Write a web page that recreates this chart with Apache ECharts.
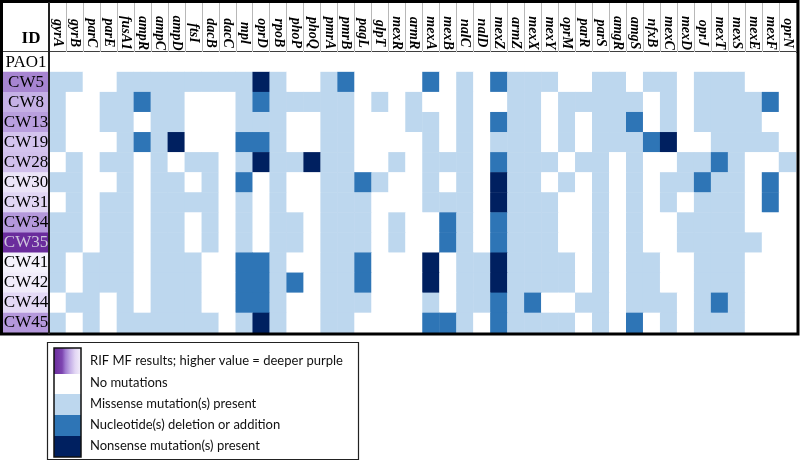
<!DOCTYPE html>
<html>
<head>
<meta charset="utf-8">
<script src="https://cdn.jsdelivr.net/npm/echarts@6/dist/echarts.min.js"></script>
<style>
  html, body { margin: 0; padding: 0; background: #ffffff; }
  #chart { width: 800px; height: 465px; }
</style>
</head>
<body>
<div id="chart"></div>
<script>
// ---------- DATA ----------
const genes = ['gyrA','gyrB','parC','parE','fusA1','ampR','ampC','ampD','ftsI','dacB','dacC','mpl','oprD','rpoB','phoP','phoQ','pmrA','pmrB','pagL','glpT','mexR','armR','mexA','mexB','nalC','nalD','mexZ','armZ','mexX','mexY','oprM','parR','parS','amgR','amgS','nfxB','mexC','mexD','oprJ','mexT','mexS','mexE','mexF','oprN'];
const strains = ['PAO1','CW5','CW8','CW13','CW19','CW28','CW30','CW31','CW34','CW35','CW41','CW42','CW44','CW45'];
// mutation code: 0 none, 1 missense, 2 nucleotide deletion/addition, 3 nonsense
const PAO1 = [0,0,0,0,0,0,0,0,0,0,0,0,0,0,0,0,0,0,0,0,0,0,0,0,0,0,0,0,0,0,0,0,0,0,0,0,0,0,0,0,0,0,0,0];
const CW5  = [1,1,0,0,1,1,1,1,1,1,1,1,3,1,0,0,1,2,0,0,0,0,2,0,1,0,2,1,1,1,0,0,1,1,0,1,1,0,1,1,1,0,0,0];
const CW8  = [1,0,0,1,1,2,1,1,0,0,0,1,2,1,1,1,1,1,0,1,0,1,0,0,1,0,0,1,1,0,1,1,1,1,1,0,1,0,1,1,1,1,2,0];
const CW13 = [1,0,0,1,1,0,1,1,0,0,0,1,1,1,0,0,1,1,0,0,0,1,1,0,1,0,2,1,1,0,1,0,1,1,2,0,1,0,1,1,1,1,0,0];
const CW19 = [1,0,0,0,1,2,1,3,0,0,0,2,2,1,0,0,1,1,0,0,0,0,1,0,1,0,1,1,1,0,1,0,1,1,1,2,3,0,0,1,1,1,1,0];
const CW28 = [0,1,0,1,1,0,1,0,1,1,0,1,3,1,1,3,1,1,0,0,1,0,1,1,1,0,2,1,1,1,0,1,1,0,1,0,0,1,1,2,1,0,0,1];
const CW30 = [1,1,0,0,1,0,1,1,0,1,0,2,0,1,0,0,1,1,2,1,0,0,1,0,1,0,3,1,1,0,1,0,1,0,1,0,1,1,2,1,1,0,2,0];
const CW31 = [0,1,0,1,1,0,1,1,1,1,0,1,0,1,0,0,1,1,1,0,0,0,1,1,1,0,3,1,1,1,0,0,1,0,1,0,1,0,1,1,1,0,2,0];
const CW34 = [1,1,0,1,1,0,1,1,0,1,0,1,0,1,1,0,1,1,1,0,1,0,0,2,1,0,2,1,1,1,0,0,1,0,1,0,0,1,1,1,1,0,0,0];
const CW35 = [1,1,0,1,1,0,1,1,0,1,0,1,0,1,1,0,1,1,1,0,1,0,0,2,1,0,2,1,1,1,0,0,1,0,1,0,0,1,1,1,1,1,0,0];
const CW41 = [1,0,1,1,1,0,1,1,1,0,0,2,2,1,0,0,1,1,2,0,0,0,3,0,1,1,3,1,1,1,1,0,1,0,1,1,0,0,1,1,1,0,0,0];
const CW42 = [1,0,1,1,1,0,1,1,1,0,0,2,2,1,2,0,1,1,2,0,0,0,3,0,1,1,3,1,1,1,1,0,1,0,1,1,0,0,1,1,1,0,0,0];
const CW44 = [0,1,1,0,1,0,1,1,1,0,0,2,2,1,0,0,1,1,1,0,0,0,1,0,1,1,2,1,2,0,0,1,1,0,1,1,1,0,1,2,1,0,0,0];
const CW45 = [1,0,1,0,1,1,1,1,1,1,0,1,3,1,0,0,1,1,0,0,0,0,2,2,1,0,2,1,1,1,1,0,1,0,2,0,1,0,1,1,1,0,0,0];
// relative RIF MF shade (higher = deeper purple)
const rifShade = [0, 60, 40, 49, 31, 33, 14, 22, 52, 100, 7, 10, 20, 52];
const legendLabels = ['RIF MF results; higher value = deeper purple','No mutations','Missense mutation(s) present','Nucleotide(s) deletion or addition','Nonsense mutation(s) present'];

// ---------- BUILD ----------
const mutationRows = [PAO1, CW5, CW8, CW13, CW19, CW28, CW30, CW31, CW34, CW35, CW41, CW42, CW44, CW45];
const cellData = [];
mutationRows.forEach((row, y) => row.forEach((v, x) => cellData.push([x, y, v])));
const idData = strains.map((s, y) => ({
  value: [0, y, rifShade[y]],
  label: { color: rifShade[y] > 80 ? '#cfc6de' : '#000000' }
}));

const mutColors = ['#ffffff', '#bdd7ee', '#2e75b6', '#002060'];
const serif = '"Liberation Serif", "Times New Roman", serif';
const sans = 'Lato, "Liberation Sans", sans-serif';

const chart = echarts.init(document.getElementById('chart'), null, { renderer: 'canvas' });

const swatchRows = [
  { y: 348, h: 26 },
  { y: 374, h: 20 },
  { y: 394, h: 21 },
  { y: 415, h: 21 },
  { y: 436, h: 21 }
];
const textY = [361, 383, 404, 425, 446];
const graphics = [];
// outer frame
graphics.push({ type: 'rect', shape: { x: 1.5, y: 1.5, width: 796.5, height: 332.5 }, style: { fill: 'none', stroke: '#000', lineWidth: 3 }, z: 100 });
// ID separator
graphics.push({ type: 'line', shape: { x1: 49, y1: 2, x2: 49, y2: 334 }, style: { stroke: '#222', lineWidth: 2 }, z: 100 });
// legend box
graphics.push({ type: 'rect', shape: { x: 47.5, y: 342.5, width: 311, height: 117 }, style: { fill: '#fff', stroke: '#222', lineWidth: 1.2 }, z: 50 });
swatchRows.forEach((r, i) => {
  let fill;
  if (i === 0) {
    fill = new echarts.graphic.LinearGradient(0, 0, 1, 0, [
      { offset: 0, color: '#6a2c9c' }, { offset: 0.3, color: '#7d45b0' },
      { offset: 0.42, color: '#a07ad0' }, { offset: 0.6, color: '#c4aee6' },
      { offset: 0.78, color: '#e2d6f4' }, { offset: 1, color: '#f4effb' }
    ]);
  } else {
    fill = mutColors[i - 1];
  }
  graphics.push({ type: 'rect', shape: { x: 54, y: r.y, width: 27, height: r.h }, style: { fill: fill }, z: 51 });
});
graphics.push({ type: 'rect', shape: { x: 54, y: 348, width: 27, height: 109 }, style: { fill: 'none', stroke: '#111', lineWidth: 1.5 }, z: 52 });
legendLabels.forEach((t, i) => {
  graphics.push({ type: 'text', style: { text: t, x: 90, y: textY[i], fill: '#111', font: '13px ' + sans, textVerticalAlign: 'middle', verticalAlign: 'middle' }, z: 53 });
});

const option = {
  animation: false,
  backgroundColor: '#ffffff',
  grid: [
    { left: 49, top: 52, width: 747, height: 281 },
    { left: 3, top: 52, width: 46, height: 281 }
  ],
  xAxis: [
    {
      type: 'category', gridIndex: 0, data: genes, position: 'top',
      axisLine: { show: true, lineStyle: { color: '#000', width: 2 } },
      axisTick: { show: true, length: 50, lineStyle: { color: '#b8b8b8', width: 1 } },
      axisLabel: { interval: 0, rotate: 90, align: 'center', verticalAlign: 'middle', margin: 19,
        fontFamily: serif, fontStyle: 'italic', fontWeight: 'bold', fontSize: 14, color: '#000' },
      splitLine: { show: false }
    },
    {
      type: 'category', gridIndex: 1, data: ['ID'], position: 'top',
      axisLine: { show: true, lineStyle: { color: '#000', width: 2 } },
      axisTick: { show: false },
      axisLabel: { margin: 5, fontFamily: serif, fontWeight: 'bold', fontSize: 17, color: '#000', padding: [0, 0, 0, 10] },
      splitLine: { show: false }
    }
  ],
  yAxis: [
    { type: 'category', gridIndex: 0, data: strains, inverse: true, show: false },
    { type: 'category', gridIndex: 1, data: strains, inverse: true, show: false }
  ],
  visualMap: [
    {
      type: 'piecewise', seriesIndex: 0, dimension: 2, show: false,
      pieces: mutColors.map((c, i) => ({ value: i, color: c }))
    },
    {
      type: 'continuous', seriesIndex: 1, dimension: 2, show: false, min: 0, max: 100,
      inRange: { color: ['#ffffff', '#ddd0f3', '#b79ddd', '#8f62c0', '#6a2c9c'] }
    }
  ],
  series: [
    {
      type: 'heatmap', xAxisIndex: 0, yAxisIndex: 0, data: cellData,
      itemStyle: { borderWidth: 0 }, emphasis: { disabled: true }
    },
    {
      type: 'heatmap', xAxisIndex: 1, yAxisIndex: 1, data: idData,
      label: { show: true, formatter: p => strains[p.value[1]], fontFamily: serif, fontSize: 17 },
      itemStyle: { borderWidth: 0 }, emphasis: { disabled: true }
    }
  ],
  graphic: graphics
};
chart.setOption(option);
</script>
</body>
</html>
